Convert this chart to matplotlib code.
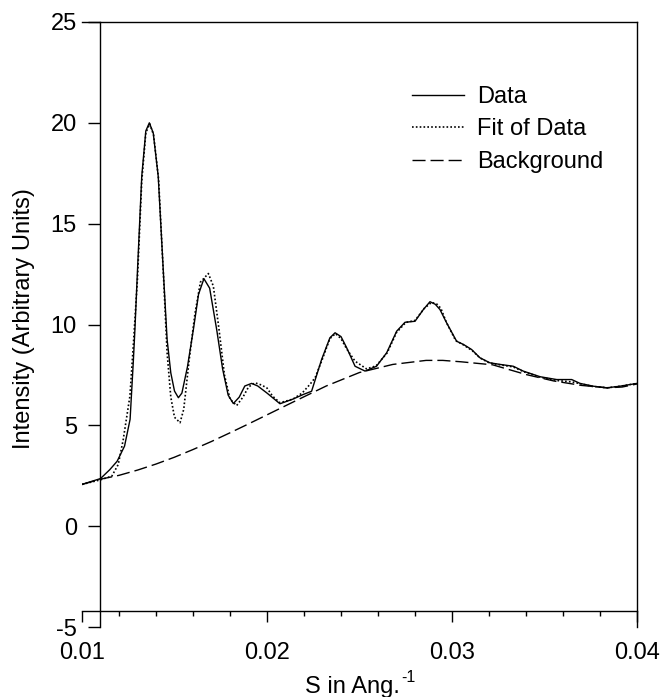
import numpy as np
import matplotlib
matplotlib.use('Agg')
import matplotlib.pyplot as plt

plt.rcParams['font.family'] = 'Liberation Sans'
plt.rcParams['font.size'] = 17
plt.rcParams['axes.unicode_minus'] = False

# measured curve (solid)
s_data = [0.0100, 0.0110, 0.0115, 0.0119, 0.0123, 0.0126, 0.01277, 0.01286, 0.0130,
          0.01323, 0.01345, 0.01364, 0.01385, 0.01412, 0.01439, 0.0146, 0.0148, 0.0150,
          0.01521, 0.0154, 0.0157, 0.01602, 0.0163, 0.01659, 0.0169, 0.01728, 0.0176,
          0.0179, 0.01818, 0.0185, 0.0188, 0.01917, 0.0195, 0.0200, 0.0207, 0.0214,
          0.02196, 0.02241, 0.02295, 0.0234, 0.02368, 0.0240, 0.02431, 0.02476, 0.0253,
          0.02592, 0.02647, 0.02701, 0.02746, 0.0280, 0.02845, 0.02881, 0.0291, 0.02935,
          0.02971, 0.03025, 0.03062, 0.03106, 0.03151, 0.03205, 0.0326, 0.03331, 0.03385,
          0.03476, 0.03566, 0.03647, 0.03692, 0.03764, 0.03836, 0.03908, 0.0400]
i_data = [2.07, 2.36, 2.8, 3.22, 3.97, 5.3, 8.1, 9.75, 12.7,
          17.35, 19.6, 20.0, 19.5, 17.35, 12.73, 9.26, 7.6, 6.7,
          6.37, 6.6, 7.9, 9.75, 11.5, 12.27, 11.8, 9.75, 7.8,
          6.5, 6.08, 6.4, 6.95, 7.08, 6.95, 6.6, 6.07, 6.3,
          6.53, 6.69, 8.26, 9.34, 9.59, 9.4, 8.84, 7.93, 7.69,
          7.93, 8.6, 9.67, 10.11, 10.16, 10.74, 11.13, 11.0, 10.74,
          10.08, 9.17, 9.01, 8.76, 8.35, 8.1, 8.02, 7.93, 7.69,
          7.41, 7.27, 7.27, 7.08, 6.94, 6.86, 6.94, 7.08]

# fitted curve (dotted)
s_fit = [0.0100, 0.0110, 0.01161, 0.01196, 0.01223, 0.01259, 0.01277, 0.0130, 0.01323,
         0.01345, 0.01366, 0.01387, 0.01414, 0.0144, 0.0146, 0.0148, 0.0150, 0.0153,
         0.0155, 0.0158, 0.0161, 0.0164, 0.01683, 0.0171, 0.0174, 0.0177, 0.0180,
         0.01836, 0.0187, 0.0190, 0.01935, 0.0197, 0.0200, 0.0203, 0.0207, 0.0214,
         0.0219, 0.02232, 0.0226, 0.0230, 0.0234, 0.0237, 0.0240, 0.0243, 0.02476,
         0.02538, 0.0259, 0.0265, 0.0270, 0.0275, 0.0280, 0.0285, 0.0289, 0.0292,
         0.0294, 0.0297, 0.0302, 0.0306, 0.0311, 0.0315, 0.0320, 0.0326, 0.0333,
         0.0339, 0.0348, 0.0357, 0.0365, 0.0370, 0.0376, 0.0384, 0.0391, 0.0400]
i_fit = [2.07, 2.3, 2.48, 3.06, 4.3, 6.45, 8.92, 12.3, 17.1,
         19.5, 19.95, 19.4, 17.2, 12.5, 8.6, 6.4, 5.4, 5.13,
         5.8, 8.3, 10.5, 12.1, 12.53, 11.9, 9.8, 7.5, 6.3,
         5.98, 6.4, 6.9, 7.11, 7.0, 6.85, 6.45, 6.12, 6.3,
         6.6, 7.03, 7.36, 8.3, 9.3, 9.55, 9.3, 8.8, 8.18,
         7.8, 7.95, 8.6, 9.6, 10.1, 10.2, 10.8, 11.1, 11.0,
         10.8, 10.1, 9.2, 9.0, 8.7, 8.35, 8.1, 8.0, 7.9,
         7.65, 7.38, 7.22, 7.15, 7.05, 6.93, 6.86, 6.94, 7.08]

# background (dashed)
s_bg = [0.0100, 0.0110, 0.0120, 0.0130, 0.0140, 0.0150, 0.0160, 0.0170, 0.0180,
        0.0190, 0.0200, 0.0214, 0.0232, 0.0250, 0.0268, 0.0286, 0.0295, 0.0305,
        0.0322, 0.0340, 0.0355, 0.0370, 0.0384, 0.0392, 0.0400]
i_bg = [2.07, 2.33, 2.52, 2.78, 3.08, 3.42, 3.8, 4.2, 4.63,
        5.07, 5.52, 6.15, 6.95, 7.62, 8.02, 8.22, 8.22, 8.15,
        8.0, 7.52, 7.2, 6.98, 6.86, 6.9, 7.05]

x_ticks = [0.01, 0.02, 0.03, 0.04]
x_ticklabels = ['0.01', '0.02', '0.03', '0.04']
y_ticks = [-5, 0, 5, 10, 15, 20, 25]


def plot():
    fig = plt.figure(figsize=(6.61, 6.97), dpi=100)
    ax = fig.add_axes([82/661, 70/697, 555/661, 605/697])

    ax.plot(s_data, i_data, color='black', lw=1.0, label='Data')
    ax.plot(s_fit, i_fit, color='black', lw=1.2, linestyle=(0, (1, 1.3)), label='Fit of Data')
    ax.plot(s_bg, i_bg, color='black', lw=1.0, linestyle=(0, (9.4, 3.6)), label='Background')

    ax.set_xlim(0.01, 0.04)
    ax.set_ylim(-5, 25)

    # offset axis lines like the original plot
    ax.spines['left'].set_position(('data', 0.010973))
    ax.spines['bottom'].set_position(('data', -4.22))
    for sp in ax.spines.values():
        sp.set_linewidth(1.0)

    ax.set_xticks(x_ticks)
    ax.set_xticklabels(x_ticklabels)
    ax.set_xticks(np.arange(0.012, 0.04, 0.002), minor=True)
    ax.set_yticks(y_ticks)
    ax.tick_params(axis='x', which='major', direction='out', length=8, width=1.0, pad=14)
    ax.tick_params(axis='x', which='minor', direction='out', length=3.6, width=1.0)
    ax.tick_params(axis='y', which='major', direction='out', length=8.6, width=1.0, pad=8)

    fig.text(24/661, 1 - 319/697, 'Intensity (Arbitrary Units)', rotation=90,
             ha='center', va='center')
    fig.text(400/661, 1 - 693/697, 'S in Ang.', ha='right', va='baseline')
    fig.text(401/661, 1 - 682/697, '-1', ha='left', va='baseline', fontsize=11.5)

    ax.legend(frameon=False, loc='upper left', bbox_to_anchor=(412/661, 1 - 86/697),
              bbox_transform=fig.transFigure, borderpad=0, borderaxespad=0,
              handlelength=2.2, handletextpad=0.55, labelspacing=0.44)

    plt.savefig('out.png', dpi=100)


def main():
    plot()
    return 0


if __name__ == "__main__":
    main()
